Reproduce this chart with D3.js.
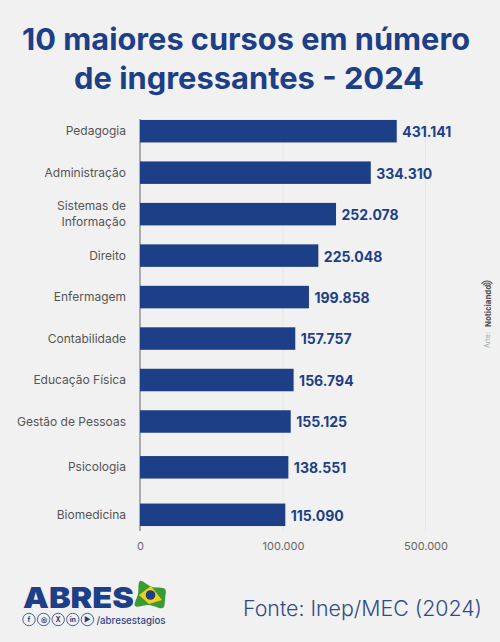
<!DOCTYPE html>
<html>
<head>
<meta charset="utf-8">
<script src="https://cdn.jsdelivr.net/npm/d3@7"></script>
<style>
html, body { margin: 0; padding: 0; background: #f1f1f1; }
text { font-family: "Inter", "Noto Sans", sans-serif; }
</style>
</head>
<body>
<div id="chart"></div>
<script>
// Values as printed on the chart
var cursos = ["Pedagogia", "Administração", "Sistemas de|Informação", "Direito", "Enfermagem",
    "Contabilidade", "Educação Física", "Gestão de Pessoas", "Psicologia", "Biomedicina"];
var ingressantes = [431141, 334310, 252078, 225048, 199858, 157757, 156794, 155125, 138551, 115090];
var rotulos = ["431.141", "334.310", "252.078", "225.048", "199.858",
    "157.757", "156.794", "155.125", "138.551", "115.090"];
var eixoValores = [0, 100000, 500000];
var eixoRotulos = ["0", "100.000", "500.000"];
var titulo = ["10 maiores cursos em número", "de ingressantes - 2024"];

var blue = "#1d3f87";
var width = 500, height = 642;
var barH = 22.5;

var svg = d3.select("#chart").append("svg")
    .attr("width", width).attr("height", height)
    .style("display", "block");

svg.selectAll(".titulo").data(titulo).enter().append("text")
    .attr("class", "titulo")
    .attr("x", function(d, i) { return i ? 74 : 22; })
    .attr("y", function(d, i) { return 50 + i * 38.5; })
    .attr("textLength", function(d, i) { return i ? 350 : 448; })
    .attr("lengthAdjust", "spacingAndGlyphs")
    .attr("font-size", 30.5)
    .attr("font-weight", 700)
    .attr("fill", blue)
    .text(function(d) { return d; });

// the axis in the picture is not linear, so the scale is piecewise
var x = d3.scaleLinear()
    .domain([0, 100000, 115000, 138000, 155000, 158000, 200000, 225000, 252000, 334000, 431000, 500000])
    .range([140, 283, 285.3, 288.3, 290.5, 295.7, 309, 318.3, 336, 370.7, 396.7, 425.5]);

// rows are evenly spaced except the last two, which sit further apart
var y = d3.scaleLinear()
    .domain([0, 7, 8, 9])
    .range([131.2, 421.5, 467.3, 514.8]);

// faint gridlines and axis line
svg.selectAll(".grid").data(eixoValores).enter().append("line")
    .attr("class", "grid")
    .attr("x1", function(d) { return x(d); })
    .attr("x2", function(d) { return x(d); })
    .attr("y1", 119).attr("y2", 531)
    .attr("stroke", function(d) { return d === 0 ? "#666" : "#e6e6e6"; })
    .attr("stroke-width", 1);

var axis = d3.axisBottom(x).tickValues(eixoValores)
    .tickFormat(function(d, i) { return eixoRotulos[i]; })
    .tickSize(0).tickPadding(9);
var axisG = svg.append("g").attr("transform", "translate(0,533)").call(axis);
axisG.select(".domain").remove();
axisG.selectAll("text").attr("font-size", 11).attr("fill", "#666")
    .style("font-family", "Inter");

var g = svg.append("g");

g.selectAll(".bar").data(ingressantes).enter().append("rect")
    .attr("class", "bar")
    .attr("x", x(0))
    .attr("y", function(d, i) { return y(i) - barH / 2; })
    .attr("width", function(d) { return x(d) - x(0); })
    .attr("height", barH)
    .attr("fill", blue);

g.selectAll(".valor").data(rotulos).enter().append("text")
    .attr("class", "valor")
    .attr("x", function(d, i) { return x(ingressantes[i]) + 5.5; })
    .attr("y", function(d, i) { return y(i) + 1; })
    .attr("dy", "0.35em")
    .attr("font-size", 14)
    .attr("font-weight", 700)
    .attr("fill", blue)
    .text(function(d) { return d; });

var cat = g.selectAll(".curso").data(cursos).enter().append("text")
    .attr("class", "curso")
    .attr("text-anchor", "end")
    .attr("font-size", 12)
    .attr("fill", "#555");
cat.each(function(d, i) {
    var linhas = d.split("|");
    d3.select(this).selectAll("tspan").data(linhas).enter().append("tspan")
        .attr("x", 126)
        .attr("y", function(l, j) { return y(i) + 4 + (j - (linhas.length - 1) / 2) * 15.5; })
        .text(function(l) { return l; });
});

// credit on the right side
svg.append("text")
    .attr("transform", "translate(490,348) rotate(-90)")
    .attr("font-size", 7).attr("fill", "#aaa")
    .text("Arte:");
svg.append("text")
    .attr("transform", "translate(491,327) rotate(-90)")
    .attr("font-size", 7.8).attr("font-weight", 800).attr("fill", "#555")
    .text("Noticiando");
var arco = d3.arc().startAngle(-1).endAngle(1);
svg.selectAll(".sinal").data([2.5, 4.5, 6.5]).enter().append("path")
    .attr("class", "sinal")
    .attr("transform", "translate(487,287.5) rotate(-90) rotate(90)")
    .attr("d", function(r) { return arco({innerRadius: r - 0.6, outerRadius: r + 0.6}); })
    .attr("fill", "#555");

// source
svg.append("text")
    .attr("x", 243).attr("y", 615.5)
    .attr("textLength", 239)
    .attr("lengthAdjust", "spacingAndGlyphs")
    .attr("font-size", 21).attr("font-weight", 300)
    .attr("fill", "#2f4a8c")
    .text("Fonte: Inep/MEC (2024)");

// logo
svg.append("text")
    .attr("x", 23).attr("y", 607.5)
    .attr("textLength", 111)
    .attr("lengthAdjust", "spacingAndGlyphs")
    .attr("font-size", 29).attr("font-weight", 900)
    .attr("fill", blue)
    .text("ABRES");

var flag = svg.append("g");
flag.append("path")
    .attr("d", d3.line().curve(d3.curveCatmullRomClosed)([[140, 581], [152, 587], [165, 589], [165, 599], [163, 608], [149, 605], [135, 606], [138, 594]]))
    .attr("fill", "#3c9a35");
flag.append("path")
    .attr("d", d3.line().curve(d3.curveLinearClosed)([[139, 595], [151, 586], [162, 600], [149, 604]]))
    .attr("fill", "#f2cf1d");
flag.append("circle").attr("cx", 150.5).attr("cy", 595).attr("r", 4.8).attr("fill", "#1d3f87");

var icones = ["f", "◎", "X", "in", "▶"];
var ic = svg.selectAll(".icone").data(icones).enter().append("g")
    .attr("class", "icone")
    .attr("transform", function(d, i) { return "translate(" + (29 + i * 14.6) + ",619.5)"; });
ic.append("circle").attr("r", 6.2).attr("fill", "none").attr("stroke", blue).attr("stroke-width", 0.8);
ic.append("text").attr("text-anchor", "middle").attr("dy", "0.35em")
    .attr("font-size", 7).attr("font-weight", 700).attr("fill", blue)
    .text(function(d) { return d; });

svg.append("text")
    .attr("x", 96.5).attr("y", 623.5)
    .attr("textLength", 69)
    .attr("lengthAdjust", "spacingAndGlyphs")
    .attr("font-size", 10).attr("font-weight", 500)
    .attr("fill", "#2f4a8c")
    .text("/abresestagios");
</script>
</body>
</html>
